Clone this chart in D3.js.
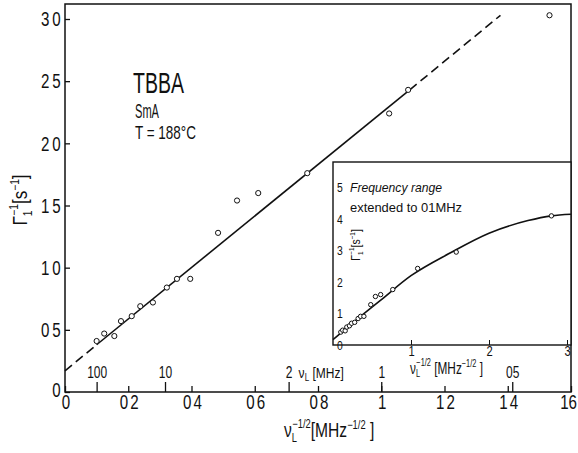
<!DOCTYPE html>
<html>
<head>
<meta charset="utf-8">
<script src="https://cdn.jsdelivr.net/npm/d3@7"></script>
<style>
  body { margin: 0; background: #fff; }
  text { font-family: "Liberation Sans", Arial, sans-serif; fill: #111; }
</style>
</head>
<body>
<div id="chart"></div>
<script>
// main panel: relaxation rate vs nu_L^-1/2
const xMain = [0.100, 0.124, 0.156, 0.177, 0.211, 0.238, 0.278, 0.322, 0.354, 0.396, 0.484, 0.544, 0.611, 0.766, 1.025, 1.085, 1.532];
const yMain = [0.41, 0.47, 0.45, 0.57, 0.61, 0.69, 0.72, 0.84, 0.91, 0.91, 1.28, 1.54, 1.60, 1.76, 2.24, 2.43, 3.03];

// fitted straight line (dashed ends)
const fitX = [0, 0.10, 1.09, 1.377];
const fitY = [0.17, 0.38, 2.43, 3.03];

// tick values / labels as printed
const xTicks = [0, 0.2, 0.4, 0.6, 0.8, 1.0, 1.2, 1.4, 1.6];
const xTickLabels = ["0", "02", "04", "06", "08", "1", "12", "14", "16"];
const yTicks = [0, 0.5, 1.0, 1.5, 2.0, 2.5, 3.0];
const yTickLabels = ["0", "05", "10", "15", "20", "25", "30"];
const freqTicks = [100, 10, 2, 1, 0.5];
const freqLabels = ["100", "10", "2", "1", "05"];

// inset: extended frequency range
const xInset = [0.100, 0.124, 0.156, 0.177, 0.211, 0.238, 0.278, 0.322, 0.354, 0.396, 0.484, 0.544, 0.611, 0.766, 1.085, 1.58, 2.80];
const yInset = [0.41, 0.47, 0.45, 0.57, 0.61, 0.69, 0.72, 0.84, 0.91, 0.91, 1.28, 1.54, 1.60, 1.76, 2.43, 2.95, 4.10];
const insetCurveX = [0, 0.3, 0.6, 1.0, 1.5, 2.0, 2.5, 2.8, 3.05];
const insetCurveY = [0.17, 0.80, 1.40, 2.20, 2.92, 3.55, 3.95, 4.10, 4.15];
const insetXTicks = [1, 2, 3];
const insetYTicks = [0, 1, 2, 3, 4, 5];

const width = 578, height = 453;
const mLeft = 65, mRight = 571, mTop = 4, mBottom = 392;

const svg = d3.select("#chart").append("svg")
    .attr("width", width).attr("height", height);

const x = d3.scaleLinear().domain([0, 1.6]).range([mLeft, mRight]);
const y = d3.scaleLinear().domain([0, 3]).range([mBottom, 19]);

// narrow (condensed) look of the printed lettering
const squeeze = (sel, k) => sel.attr("transform", `scale(${k},1)`);

// frame
svg.append("rect")
    .attr("x", mLeft).attr("y", mTop)
    .attr("width", mRight - mLeft).attr("height", mBottom - mTop)
    .attr("fill", "none").attr("stroke", "#111").attr("stroke-width", 1.5);

// x axis (ticks inward)
const xAxis = svg.append("g")
    .attr("transform", `translate(0,${mBottom})`)
    .call(d3.axisBottom(x).tickValues(xTicks)
        .tickFormat((d, i) => xTickLabels[i])
        .tickSizeInner(-6).tickSizeOuter(0).tickPadding(2));
xAxis.select(".domain").remove();
xAxis.selectAll("line").attr("stroke", "#111").attr("stroke-width", 1.3);
xAxis.selectAll("text").attr("font-size", 21).attr("font-family", "Liberation Sans")
    .attr("letter-spacing", (d, i) => i === xTicks.length - 1 ? 0 : 3)
    .attr("dx", (d, i) => i === xTicks.length - 1 ? -4 : 2)
    .call(squeeze, 0.72);

// y axis
const yAxis = svg.append("g")
    .attr("transform", `translate(${mLeft},0)`)
    .call(d3.axisLeft(y).tickValues(yTicks)
        .tickFormat((d, i) => yTickLabels[i])
        .tickSizeInner(-5).tickSizeOuter(0).tickPadding(2));
yAxis.select(".domain").remove();
yAxis.selectAll("line").attr("stroke", "#111").attr("stroke-width", 1.3);
yAxis.selectAll("text").attr("font-size", 21).attr("font-family", "Liberation Sans")
    .attr("letter-spacing", 4).attr("dy", (d, i) => i === 0 ? "0.2em" : "0.32em")
    .call(squeeze, 0.72);

// frequency scale nu_L [MHz] along the bottom
const freqAxis = svg.append("g")
    .attr("transform", `translate(0,${mBottom})`)
    .call(d3.axisTop(x)
        .tickValues(freqTicks.map(f => 1 / Math.sqrt(f)))
        .tickFormat((d, i) => freqLabels[i])
        .tickSizeInner(10).tickSizeOuter(0).tickPadding(4));
freqAxis.select(".domain").remove();
freqAxis.selectAll("line").attr("stroke", "#111").attr("stroke-width", 1.3);
freqAxis.selectAll("text").attr("font-size", 16).attr("font-family", "Liberation Sans")
    .call(squeeze, 0.75);

const fl = svg.append("g").attr("transform", `translate(${x(1 / Math.sqrt(2)) + 10},378) scale(0.8,1)`)
    .append("text").attr("font-size", 15);
fl.append("tspan").text("ν");
fl.append("tspan").attr("font-size", 10).attr("dy", 3).text("L");
fl.append("tspan").attr("dy", -3).text(" [MHz]");

// fitted line: dashed ends, solid over the data
const line = d3.line().x(d => x(d[0])).y(d => y(d[1]));
const fit = fitX.map((v, i) => [v, fitY[i]]);
svg.append("path").datum([fit[0], fit[1]])
    .attr("d", line).attr("fill", "none").attr("stroke", "#111")
    .attr("stroke-width", 1.6).attr("stroke-dasharray", "9,5");
svg.append("path").datum([fit[1], fit[2]])
    .attr("d", line).attr("fill", "none").attr("stroke", "#111").attr("stroke-width", 1.6);
svg.append("path").datum([fit[2], fit[3]])
    .attr("d", line).attr("fill", "none").attr("stroke", "#111")
    .attr("stroke-width", 1.6).attr("stroke-dasharray", "9,5");

// data points
svg.append("g").selectAll("circle")
    .data(xMain.map((v, i) => [v, yMain[i]]))
    .join("circle")
    .attr("cx", d => x(d[0])).attr("cy", d => y(d[1])).attr("r", 2.6)
    .attr("fill", "#fff").attr("stroke", "#111").attr("stroke-width", 1);

// sample annotation
svg.append("text").attr("x", 133).attr("y", 93).attr("font-size", 29)
    .attr("textLength", 51).attr("lengthAdjust", "spacingAndGlyphs").text("TBBA");
svg.append("text").attr("x", 135).attr("y", 118).attr("font-size", 21)
    .attr("textLength", 24).attr("lengthAdjust", "spacingAndGlyphs").text("SmA");
svg.append("text").attr("x", 135).attr("y", 139).attr("font-size", 19)
    .attr("textLength", 61).attr("lengthAdjust", "spacingAndGlyphs").text("T = 188°C");

// axis titles
const yl = svg.append("g").attr("transform", "translate(27,200) rotate(-90) scale(0.85,1)")
    .append("text").attr("text-anchor", "middle").attr("font-size", 20);
yl.append("tspan").text("Γ");
yl.append("tspan").attr("font-size", 12).attr("dy", 5).text("1");
yl.append("tspan").attr("font-size", 12).attr("dy", -14).attr("dx", -6).text("−1");
yl.append("tspan").attr("dy", 9).text("[s");
yl.append("tspan").attr("font-size", 12).attr("dy", -8).text("−1");
yl.append("tspan").attr("dy", 8).text("]");

const xl = svg.append("g").attr("transform", "translate(284,437) scale(0.78,1)")
    .append("text").attr("font-size", 20);
xl.append("tspan").text("ν");
xl.append("tspan").attr("font-size", 12).attr("dy", 5).text("L");
xl.append("tspan").attr("font-size", 12).attr("dy", -14).attr("dx", -6).text("−1/2");
xl.append("tspan").attr("dy", 9).text("[MHz");
xl.append("tspan").attr("font-size", 12).attr("dy", -8).text("−1/2");
xl.append("tspan").attr("dy", 8).text(" ]");

// ---------- inset ----------
const il = 333, ir = 571, it = 162, ib = 345;
const ix = d3.scaleLinear().domain([0, 3]).range([il, 567]);
const iy = d3.scaleLinear().domain([0, 5]).range([ib, 187.5]);

svg.append("rect")
    .attr("x", il).attr("y", it).attr("width", ir - il).attr("height", ib - it)
    .attr("fill", "#fff").attr("stroke", "#111").attr("stroke-width", 1.4);

const ixAxis = svg.append("g")
    .attr("transform", `translate(0,${ib})`)
    .call(d3.axisBottom(ix).tickValues(insetXTicks).tickFormat(d3.format("d"))
        .tickSizeInner(-5).tickSizeOuter(0).tickPadding(1));
ixAxis.select(".domain").remove();
ixAxis.selectAll("line").attr("stroke", "#111");
ixAxis.selectAll("text").attr("font-size", 14).attr("font-family", "Liberation Sans")
    .call(squeeze, 0.8);

const iyAxis = svg.append("g")
    .attr("transform", `translate(${il},0)`)
    .call(d3.axisRight(iy).tickValues(insetYTicks).tickFormat(d3.format("d"))
        .tickSizeInner(0).tickSizeOuter(0).tickPadding(5));
iyAxis.select(".domain").remove();
iyAxis.selectAll("text").attr("font-size", 13).attr("font-family", "Liberation Sans")
    .call(squeeze, 0.8);

const icurve = d3.line().curve(d3.curveMonotoneX).x(d => ix(d[0])).y(d => iy(d[1]));
svg.append("path")
    .datum(insetCurveX.map((v, i) => [v, insetCurveY[i]]))
    .attr("d", icurve).attr("fill", "none").attr("stroke", "#111").attr("stroke-width", 1.6);

svg.append("g").selectAll("circle")
    .data(xInset.map((v, i) => [v, yInset[i]]))
    .join("circle")
    .attr("cx", d => ix(d[0])).attr("cy", d => iy(d[1])).attr("r", 2.2)
    .attr("fill", "#fff").attr("stroke", "#111").attr("stroke-width", 1);

svg.append("text").attr("x", 350).attr("y", 192).attr("font-size", 13)
    .attr("font-style", "italic")
    .attr("textLength", 92).attr("lengthAdjust", "spacingAndGlyphs").text("Frequency range");
svg.append("text").attr("x", 350).attr("y", 212).attr("font-size", 13)
    .attr("textLength", 112).attr("lengthAdjust", "spacingAndGlyphs").text("extended to 01MHz");

const iyl = svg.append("g").attr("transform", "translate(360,245) rotate(-90) scale(0.8,1)")
    .append("text").attr("text-anchor", "middle").attr("font-size", 13);
iyl.append("tspan").text("Γ");
iyl.append("tspan").attr("font-size", 8).attr("dy", 3).text("1");
iyl.append("tspan").attr("font-size", 8).attr("dy", -9).attr("dx", -4).text("−1");
iyl.append("tspan").attr("dy", 6).text("[s");
iyl.append("tspan").attr("font-size", 8).attr("dy", -5).text("−1");
iyl.append("tspan").attr("dy", 5).text("]");

const ixl = svg.append("g").attr("transform", "translate(410,374) scale(0.74,1)")
    .append("text").attr("font-size", 16);
ixl.append("tspan").text("ν");
ixl.append("tspan").attr("font-size", 10).attr("dy", 3).text("L");
ixl.append("tspan").attr("font-size", 10).attr("dy", -11).attr("dx", -5).text("−1/2");
ixl.append("tspan").attr("dy", 8).text(" [MHz");
ixl.append("tspan").attr("font-size", 10).attr("dy", -7).text("−1/2");
ixl.append("tspan").attr("dy", 7).text(" ]");
</script>
</body>
</html>
